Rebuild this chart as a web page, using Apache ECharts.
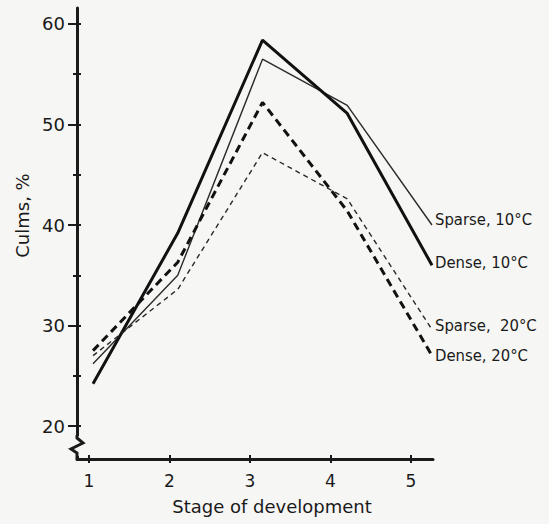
<!DOCTYPE html>
<html><head><meta charset="utf-8">
<script src="https://cdn.jsdelivr.net/npm/echarts@6/dist/echarts.min.js"></script>
<style>html,body{margin:0;background:#f6f6f4}#chart{width:549px;height:524px}</style>
</head><body><div id="chart"></div>
<script>
var stages = [1, 2, 3, 4, 5];
var denseCold = [24.2, 39.2, 58.4, 51.1, 36.0];
var sparseCold = [26.2, 35.0, 56.5, 51.9, 40.0];
var denseWarm = [27.5, 36.3, 52.2, 41.4, 27.0];
var sparseWarm = [27.0, 33.6, 47.2, 42.6, 29.6];
var yMajor = [20, 30, 40, 50, 60];
var yMinor = [25, 35, 45, 55];
var names = ['Sparse, 10°C', 'Dense, 10°C', 'Sparse,  20°C', 'Dense, 20°C'];

var bg = '#f6f6f4';
var ink = '#1a1a1a';
var font = 'DejaVu Sans';

function pairs(arr) {
  return stages.map(function(s, i) { return [s, arr[i]]; });
}

function lineSeries(name, arr, width, dash, color, offset) {
  return {
    name: name, type: 'line', xAxisIndex: 2, yAxisIndex: 0,
    data: pairs(arr), symbol: 'none', clip: false,
    lineStyle: { color: color, width: width, type: dash },
    endLabel: { show: true, formatter: '{a}', color: ink, fontFamily: 'DejaVu Sans Condensed', fontSize: 16.5, offset: offset, distance: 3 }
  };
}

var chart = echarts.init(document.getElementById('chart'), null, { renderer: 'svg' });
chart.setOption({
  animation: false,
  backgroundColor: bg,
  grid: { left: 77, right: 116, top: 8, bottom: 65 },
  xAxis: [
    {
      type: 'value', position: 'bottom', min: 0.851, max: 5.273,
      axisLine: { onZero: false, lineStyle: { color: ink, width: 3 } },
      axisTick: { customValues: stages, length: 4, lineStyle: { color: ink, width: 2 } },
      axisLabel: { customValues: stages, color: ink, fontFamily: font, fontSize: 17, margin: 13 },
      splitLine: { show: false },
      name: 'Stage of development', nameLocation: 'middle', nameGap: 38,
      nameTextStyle: { color: ink, fontFamily: font, fontSize: 18, padding: [0, 0, 0, 34] }
    },
    {
      type: 'value', position: 'bottom', min: 0.851, max: 5.273,
      axisLine: { show: false, onZero: false },
      axisTick: { customValues: stages, inside: true, length: 4, lineStyle: { color: ink, width: 2 } },
      axisLabel: { show: false }, splitLine: { show: false }
    },
    { type: 'value', position: 'bottom', min: 0.811, max: 5.012, show: false }
  ],
  yAxis: [
    {
      type: 'value', position: 'left', min: 16.72, max: 61.59,
      axisLine: { show: true, onZero: false, lineStyle: { color: ink, width: 3 } },
      axisTick: { customValues: yMajor, length: 9, lineStyle: { color: ink, width: 2 } },
      axisLabel: { customValues: yMajor, color: ink, fontFamily: font, fontSize: 18, margin: 12 },
      splitLine: { show: false },
      name: 'Culms, %', nameLocation: 'middle', nameGap: 46,
      nameTextStyle: { color: ink, fontFamily: font, fontSize: 18, padding: [0, 0, 0, 36] }
    },
    {
      type: 'value', position: 'left', min: 16.72, max: 61.59,
      axisLine: { show: false, onZero: false },
      axisTick: { customValues: yMajor.concat(yMinor), inside: true, length: 4, lineStyle: { color: ink, width: 2 } },
      axisLabel: { show: false }, splitLine: { show: false }
    },
    {
      type: 'value', position: 'left', min: 16.72, max: 61.59,
      axisLine: { show: false, onZero: false },
      axisTick: { customValues: yMinor, length: 4, lineStyle: { color: ink, width: 2 } },
      axisLabel: { show: false }, splitLine: { show: false }
    }
  ],
  series: [
    lineSeries(names[0], sparseCold, 1.4, 'solid', '#2a2a2a', [0, -6]),
    lineSeries(names[1], denseCold, 3, 'solid', '#111', [0, -3]),
    lineSeries(names[2], sparseWarm, 1.4, [5, 4], '#2a2a2a', [0, -4]),
    lineSeries(names[3], denseWarm, 3, [8, 5], '#111', [0, 0])
  ]
});

// axis break mark near the origin
var ax = chart.convertToPixel({ xAxisIndex: 0 }, 0.851);
var yb = chart.convertToPixel({ yAxisIndex: 0 }, 16.72);
chart.setOption({
  graphic: [
    { type: 'rect', shape: { x: ax - 8, y: yb - 23, width: 16, height: 20 }, style: { fill: bg }, z: 100 },
    { type: 'polyline', shape: { points: [[ax, yb - 24], [ax, yb - 21], [ax + 6, yb - 16], [ax - 6, yb - 10], [ax, yb - 6], [ax, yb]] },
      style: { stroke: ink, lineWidth: 3, fill: null }, z: 101 }
  ]
});
</script>
</body></html>
